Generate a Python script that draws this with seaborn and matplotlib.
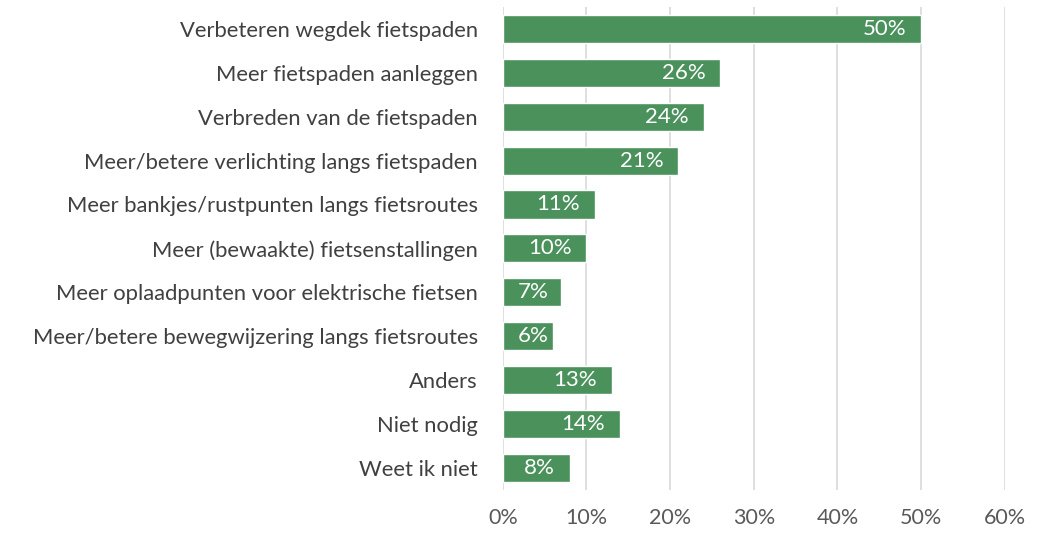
import matplotlib
matplotlib.use("Agg")
import matplotlib.pyplot as plt
import seaborn as sns
import pandas as pd
from matplotlib.ticker import FuncFormatter

categories = [
    "Verbeteren wegdek fietspaden",
    "Meer fietspaden aanleggen",
    "Verbreden van de fietspaden",
    "Meer/betere verlichting langs fietspaden",
    "Meer bankjes/rustpunten langs fietsroutes",
    "Meer (bewaakte) fietsenstallingen",
    "Meer oplaadpunten voor elektrische fietsen",
    "Meer/betere bewegwijzering langs fietsroutes",
    "Anders",
    "Niet nodig",
    "Weet ik niet",
]
values = [50, 26, 24, 21, 11, 10, 7, 6, 13, 14, 8]
xticks = [0, 10, 20, 30, 40, 50, 60]

sns.set_theme(style="white")
plt.rcParams['font.family'] = ['Lato', 'DejaVu Sans']

df = pd.DataFrame({"cat": categories, "val": values})
fig = plt.figure(figsize=(10.52, 5.33), dpi=100)
ax = fig.add_axes([0.478, 0.081, 0.477, 0.906])
sns.barplot(data=df, y="cat", x="val", color="#4A915C", saturation=1, width=0.64, ax=ax, zorder=3)
ax.set_xlim(0, 60)
ax.set_xticks(xticks)
ax.xaxis.set_major_formatter(FuncFormatter(lambda v, p: f"{int(v)}%"))
ax.grid(axis="x", color="#D9D9D9", linewidth=1.2, zorder=0)
ax.set_axisbelow(True)
for s in ax.spines.values():
    s.set_visible(False)
ax.set_xlabel("")
ax.set_ylabel("")
ax.tick_params(axis="y", length=0, pad=18, labelsize=15.8, labelcolor="#404040")
ax.tick_params(axis="x", length=0, pad=13, labelsize=15.5, labelcolor="#595959")

fig.canvas.draw()
renderer = fig.canvas.get_renderer()
x0_px = ax.transData.transform((0, 0))[0]
for i, v in enumerate(values):
    t = ax.annotate(f"{v}%", xy=(v, i), xytext=(-15, 0), textcoords="offset pixels",
                    ha="right", va="center", color="white", fontsize=16)
    bb = t.get_window_extent(renderer)
    if bb.x0 < x0_px + 15:
        t.remove()
        ax.annotate(f"{v}%", xy=(0, i), xytext=(15, 0), textcoords="offset pixels",
                    ha="left", va="center", color="white", fontsize=16)
fig.savefig("out.png", dpi=100)
